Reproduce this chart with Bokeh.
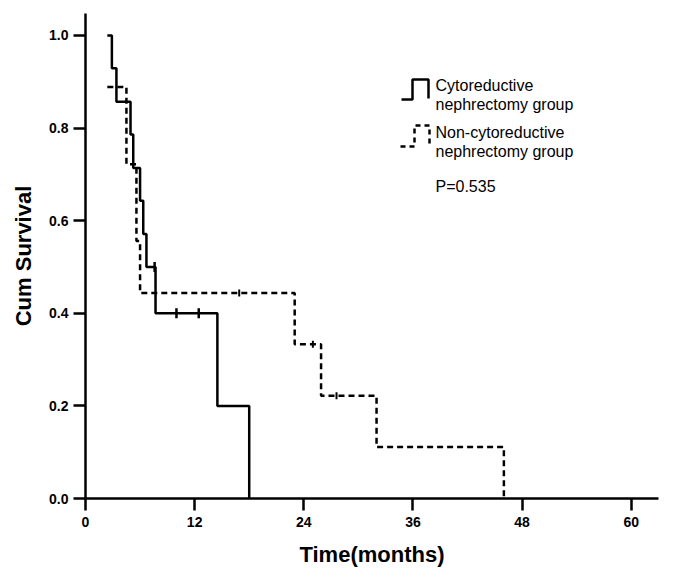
from bokeh.plotting import figure
from bokeh.models import Range1d, Label, FixedTicker, NumeralTickFormatter
from bokeh.embed import file_html
from bokeh.resources import INLINE

# ---- data ----
cn_time = [2.4, 2.9, 3.4, 4.95, 5.25, 6.0, 6.35, 6.7, 7.7, 14.5, 18.0]
cn_surv = [1.0, 0.929, 0.857, 0.786, 0.714, 0.643, 0.571, 0.5, 0.4, 0.2, 0.0]
cn_cens_time = [7.6, 10.0, 12.45]
cn_cens_surv = [0.5, 0.4, 0.4]

ncn_time = [2.4, 4.5, 5.6, 6.0, 23.0, 25.9, 32.0, 46.0]
ncn_surv = [0.889, 0.722, 0.556, 0.444, 0.333, 0.222, 0.111, 0.0]
ncn_cens_time = [16.9, 25.0, 27.6]
ncn_cens_surv = [0.444, 0.333, 0.222]

x_ticks = [0, 12, 24, 36, 48, 60]
y_ticks = [0.0, 0.2, 0.4, 0.6, 0.8, 1.0]
legend_labels = ["Cytoreductive", "nephrectomy group", "Non-cytoreductive", "nephrectomy group"]
p_text = "P=0.535"
x_title = "Time(months)"
y_title = "Cum Survival"

X_MAX = 63
Y_MAX = 1.0475
FONT = "Liberation Sans"

# frame placed at left 85, top 13, width 573, height 485
p = figure(width=661, height=570, x_range=Range1d(0, X_MAX), y_range=Range1d(0, Y_MAX),
           output_backend="svg", toolbar_location=None,
           min_border_left=85, min_border_right=3, min_border_top=13, min_border_bottom=72)
p.outline_line_color = None
p.xgrid.visible = False
p.ygrid.visible = False
p.background_fill_color = "white"
p.border_fill_color = "white"

for ax in (p.xaxis[0], p.yaxis[0]):
    ax.axis_line_width = 2.5
    ax.axis_line_color = "black"
    ax.major_tick_line_width = 2.5
    ax.major_tick_line_color = "black"
    ax.major_tick_out = 12
    ax.major_tick_in = 0
    ax.minor_tick_line_color = None
    ax.major_label_text_font = FONT
    ax.major_label_text_font_style = "bold"
    ax.major_label_text_font_size = "14px"
    ax.major_label_text_color = "black"
    ax.axis_label_text_font = FONT
    ax.axis_label_text_font_style = "bold"
    ax.axis_label_text_font_size = "22px"
    ax.axis_label_text_color = "black"

p.xaxis.ticker = FixedTicker(ticks=x_ticks)
p.yaxis.ticker = FixedTicker(ticks=y_ticks)
p.yaxis.formatter = NumeralTickFormatter(format="0.0")
p.xaxis.axis_label = x_title
p.yaxis.axis_label = y_title
p.xaxis.major_label_standoff = 6
p.yaxis.major_label_standoff = 5
p.xaxis.axis_label_standoff = 12
p.yaxis.axis_label_standoff = 10

# curves
p.step(cn_time, cn_surv, mode="after", line_color="black", line_width=2.5)
p.step(ncn_time, ncn_surv, mode="after", line_color="black", line_width=2.5, line_dash="6 4")

# censor marks
p.scatter(cn_cens_time, cn_cens_surv, marker="dash", angle=1.5708, size=10,
          line_color="black", line_width=2.5)
p.scatter(ncn_cens_time, ncn_cens_surv, marker="dash", angle=1.5708, size=7,
          line_color="black", line_width=2)

# ---- layout helpers: picture pixel -> data ----
def px(xp):
    return (xp - 85) / (573 / X_MAX)

def py(yp):
    return (498 - yp) / (485 / Y_MAX)

# legend drawn manually
p.line([px(401), px(412), px(412), px(428), px(428)],
       [py(99), py(99), py(79), py(79), py(98)], line_color="black", line_width=2.5)
p.line([px(400), px(414), px(414), px(429), px(429)],
       [py(146), py(146), py(125), py(125), py(146)], line_color="black", line_width=2.5,
       line_dash="5 4")

baselines = [85, 104, 132, 151]
for txt, b in zip(legend_labels, baselines):
    p.add_layout(Label(x=px(435), y=py(b), text=txt, text_font=FONT, text_font_size="16px",
                       text_color="black", text_baseline="alphabetic"))
p.add_layout(Label(x=px(435), y=py(186), text=p_text, text_font=FONT, text_font_size="16px",
                   text_color="black", text_baseline="alphabetic"))

open("out.html", "w").write(file_html(p, INLINE))
